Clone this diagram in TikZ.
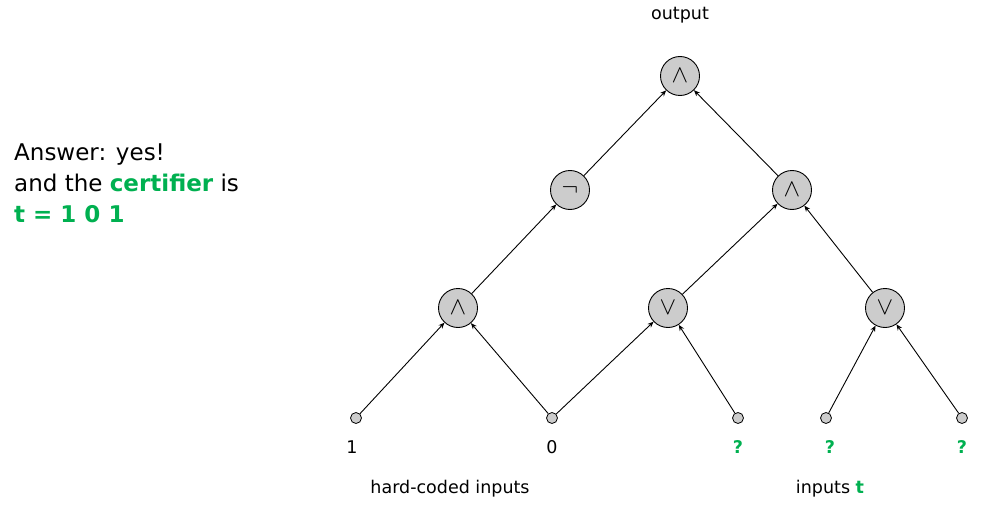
\documentclass[tikz,border=0pt]{standalone}
\usepackage{amsmath}
\usepackage{amssymb}
\usepackage{fontspec}
\setmainfont{DejaVu Sans}
\usetikzlibrary{arrows.meta, positioning}
\definecolor{certgreen}{RGB}{0,176,80}

\begin{document}
\begin{tikzpicture}[x=1pt, y=-1pt,
   gate/.style={circle, draw, line width=0.9pt, fill=gray!40, minimum size=39pt, inner sep=0pt, font=\fontsize{23}{26}\selectfont},
   leaf/.style={circle, draw, line width=0.8pt, fill=gray!40, minimum size=11pt, inner sep=0pt},
   wire/.style={-{Stealth[length=6pt, width=5pt]}, line width=0.9pt},
   lbl/.style={font=\fontsize{17.5}{20}\selectfont}]
   \useasboundingbox (0,0) rectangle (993,516);
   % gates
   \node[gate] (top) at (680,76) {$\wedge$};
   \node[gate] (neg) at (570,190) {$\neg$};
   \node[gate] (andr) at (792,190) {$\wedge$};
   \node[gate] (andl) at (458,308) {$\wedge$};
   \node[gate] (orm) at (668,308) {$\vee$};
   \node[gate] (orr) at (885,308) {$\vee$};
   % inputs
   \node[leaf] (x1) at (356,418) {};
   \node[leaf] (x2) at (552,418) {};
   \node[leaf] (x3) at (738,418) {};
   \node[leaf] (x4) at (826,418) {};
   \node[leaf] (x5) at (962,418) {};
   \node[lbl] (v1) at (352,447) {1};
   \node[lbl] (v2) at (552,447) {0};
   \node[lbl, text=certgreen] (v3) at (738,447) {\textbf{?}};
   \node[lbl, text=certgreen] (v4) at (830,447) {\textbf{?}};
   \node[lbl, text=certgreen] (v5) at (962,447) {\textbf{?}};
   \node[lbl] (out) at (680,15) {output};
   \node[lbl] (hard) at (450,489) {hard-coded inputs};
   \node[lbl] (free) at (830,489) {inputs \textcolor{certgreen}{\textbf{t}}};
   % wires
   \draw[wire] (x1) -- (andl);
   \draw[wire] (x2) -- (andl);
   \draw[wire] (x2) -- (orm);
   \draw[wire] (x3) -- (orm);
   \draw[wire] (x4) -- (orr);
   \draw[wire] (x5) -- (orr);
   \draw[wire] (andl) -- (neg);
   \draw[wire] (orm) -- (andr);
   \draw[wire] (orr) -- (andr);
   \draw[wire] (neg) -- (top);
   \draw[wire] (andr) -- (top);
   % answer
   \node[anchor=north west, align=left, inner sep=0pt, font=\fontsize{23}{31}\selectfont] (answer) at (14,144)
      {Answer: yes!\\and the \textcolor{certgreen}{\textbf{certifier}} is\\\textcolor{certgreen}{\textbf{t = 1 0 1}}};
\end{tikzpicture}
\end{document}
